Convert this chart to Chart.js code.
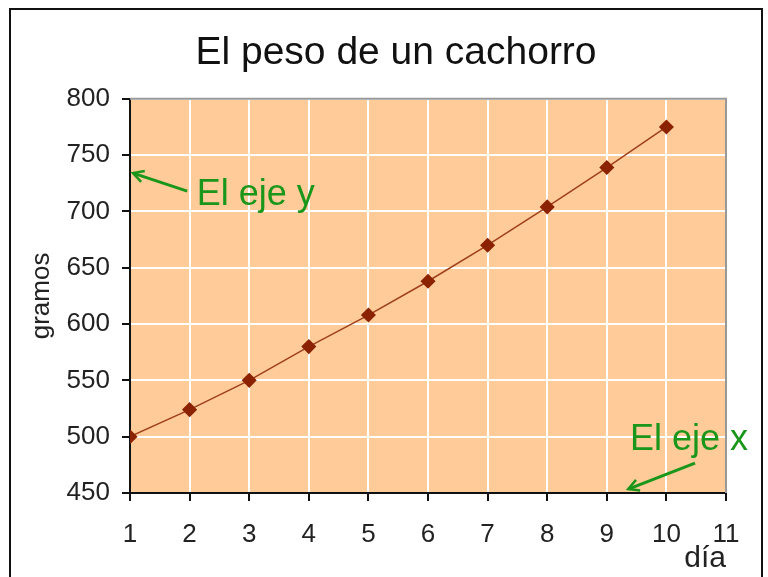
<!DOCTYPE html>
<html>
<head>
<meta charset="utf-8">
<script src="https://cdn.jsdelivr.net/npm/chart.js@4"></script>
<style>
    body { margin: 0; background: #fff; }
    canvas { display: block; }
</style>
</head>
<body>
<canvas id="myChart" width="768" height="577"></canvas>
<script>
const days = [1, 2, 3, 4, 5, 6, 7, 8, 9, 10];
const grams = [500, 524, 550, 580, 608, 638, 670, 704, 739, 775];
const xTicks = [1, 11, 1];      // min, max, step
const yTicks = [450, 800, 50];  // min, max, step

// notes: [text, textX, textY, arrow from x, from y, to x, to y] in data units
const notes = [
    ["El eje y", 2.12, 706, 1.96, 718, 1.05, 734],
    ["El eje x", 9.39, 488, 10.48, 476.5, 9.36, 453.5]
];

const FONT = "'Liberation Sans', Arial, sans-serif";
const GREEN = "#1a961a";

const chartBackground = {
    id: "chartBackground",
    afterLayout(chart) {
        // title sits a bit right of the full-width centre in the original
        chart.titleBlock.left += 27;
        chart.titleBlock.right += 27;
    },
    beforeDraw(chart) {
        const ctx = chart.ctx;
        const area = chart.chartArea;
        ctx.save();
        ctx.fillStyle = "#fff";
        ctx.fillRect(0, 0, chart.width, chart.height);
        ctx.strokeStyle = "#111";
        ctx.lineWidth = 2;
        ctx.strokeRect(10, 9, 752, 590);
        ctx.fillStyle = "#ffcc99";
        ctx.fillRect(area.left, area.top, area.right - area.left, area.bottom - area.top);
        ctx.restore();
    },
    beforeDatasetsDraw(chart) {
        const ctx = chart.ctx;
        const area = chart.chartArea;
        ctx.save();
        ctx.strokeStyle = "#999";
        ctx.lineWidth = 2;
        ctx.beginPath();
        ctx.moveTo(area.left, area.top);
        ctx.lineTo(area.right, area.top);
        ctx.lineTo(area.right, area.bottom);
        ctx.stroke();
        ctx.restore();
    }
};

const axisNotes = {
    id: "axisNotes",
    afterDraw(chart) {
        const ctx = chart.ctx;
        const x = chart.scales.x;
        const y = chart.scales.y;
        ctx.save();
        ctx.fillStyle = GREEN;
        ctx.strokeStyle = GREEN;
        ctx.font = "36px " + FONT;
        ctx.textBaseline = "alphabetic";
        notes.forEach(n => {
            ctx.fillText(n[0], x.getPixelForValue(n[1]), y.getPixelForValue(n[2]));
            const x1 = x.getPixelForValue(n[3]), y1 = y.getPixelForValue(n[4]);
            const x2 = x.getPixelForValue(n[5]), y2 = y.getPixelForValue(n[6]);
            const ang = Math.atan2(y2 - y1, x2 - x1);
            ctx.lineWidth = 3;
            ctx.beginPath();
            ctx.moveTo(x1, y1);
            ctx.lineTo(x2, y2);
            ctx.stroke();
            ctx.lineWidth = 2.5;
            ctx.beginPath();
            ctx.moveTo(x2 - 12 * Math.cos(ang - 0.5), y2 - 12 * Math.sin(ang - 0.5));
            ctx.lineTo(x2, y2);
            ctx.lineTo(x2 - 12 * Math.cos(ang + 0.5), y2 - 12 * Math.sin(ang + 0.5));
            ctx.stroke();
        });
        ctx.restore();
    }
};

const ctx = document.getElementById("myChart").getContext("2d");

new Chart(ctx, {
    type: "line",
    data: {
        datasets: [{
            data: days.map((d, i) => ({ x: d, y: grams[i] })),
            borderColor: "#a0401a",
            borderWidth: 1.5,
            backgroundColor: "#8b2200",
            pointStyle: "rectRot",
            pointRadius: 6.5,
            pointBorderColor: "#8b2200",
            pointBackgroundColor: "#8b2200",
            tension: 0
        }]
    },
    options: {
        responsive: false,
        animation: false,
        layout: { padding: { left: 12, right: 42, top: 0, bottom: 0 } },
        plugins: {
            legend: { display: false },
            tooltip: { enabled: false },
            title: {
                display: true,
                text: "El peso de un cachorro",
                color: "#111",
                font: { family: FONT, size: 39, weight: "normal" },
                padding: { top: 30, bottom: 22 }
            }
        },
        scales: {
            x: {
                type: "linear",
                min: xTicks[0],
                max: xTicks[1],
                afterFit(scale) { scale.height = 84; },
                ticks: {
                    stepSize: xTicks[2],
                    color: "#222",
                    padding: 18,
                    font: { family: FONT, size: 26 }
                },
                grid: { color: "#fff", lineWidth: 2, tickColor: "#111", tickLength: 8 },
                border: { display: true, color: "#111", width: 2 },
                title: {
                    display: true,
                    text: "día",
                    align: "end",
                    color: "#222",
                    font: { family: FONT, size: 30 },
                    padding: { top: 0, bottom: 0 }
                }
            },
            y: {
                min: yTicks[0],
                max: yTicks[1],
                afterFit(scale) { scale.width = 118; },
                ticks: {
                    stepSize: yTicks[2],
                    color: "#222",
                    padding: 12,
                    font: { family: FONT, size: 26 }
                },
                grid: { color: "#fff", lineWidth: 2, tickColor: "#111", tickLength: 8 },
                border: { display: true, color: "#111", width: 2 },
                title: {
                    display: true,
                    text: "gramos",
                    color: "#222",
                    font: { family: FONT, size: 26 },
                    padding: { top: 14, bottom: 0 }
                }
            }
        }
    },
    plugins: [chartBackground, axisNotes]
});
</script>
</body>
</html>
